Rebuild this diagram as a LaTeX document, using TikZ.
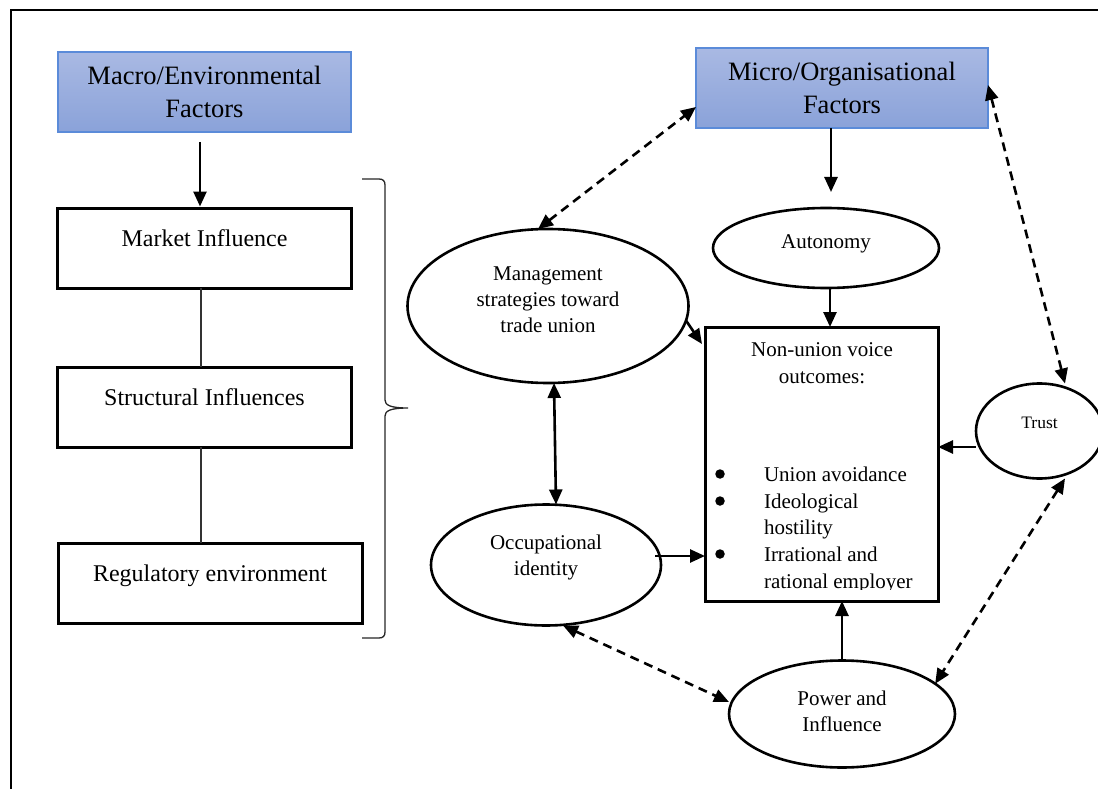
\documentclass[tikz,border=0pt]{standalone}
\usepackage{fontspec}
\setmainfont{Liberation Serif}
\usetikzlibrary{arrows.meta,calc,shapes.geometric}
\definecolor{bluetop}{HTML}{A9B9E3}
\definecolor{bluebot}{HTML}{8AA2D9}
\definecolor{bluebd}{HTML}{5B8BD9}
\begin{document}
\begin{tikzpicture}[x=1pt,y=-1pt,
  every node/.style={inner sep=0pt, outer sep=0pt},
  bluebox/.style={draw=bluebd, line width=1.5pt, top color=bluetop, bottom color=bluebot, align=center, font=\fontsize{26.5}{33.5}\selectfont},
  plainbox/.style={draw, line width=3pt, text height=38pt, text depth=42pt, font=\fontsize{24}{29}\selectfont},
  oval/.style={draw, ellipse, line width=2.6pt},
  otxt/.style={align=center, font=\fontsize{21}{26}\selectfont},
  ltxt/.style={font=\fontsize{21}{27}\selectfont},
  dot/.style={circle, fill, minimum size=9.5pt},
  arr/.style={line width=2.6pt, -{Triangle[length=15pt,width=13pt]}},
  dblarr/.style={line width=2.6pt, {Triangle[length=15pt,width=13pt]}-{Triangle[length=15pt,width=13pt]}},
  dsh/.style={dblarr, dash pattern=on 9pt off 6pt},
  thinline/.style={line width=1.1pt, draw=black!80}
]
\useasboundingbox (0,0) rectangle (1098,789);
\draw[line width=2.2pt] (11,789) -- (11,10) -- (1098,10);

% left column
\node[bluebox, minimum width=293pt, minimum height=80pt] (mac) at (204.5,92) {Macro/Environmental\\Factors};
\node[plainbox, minimum width=294pt, anchor=base] (mk) at (204.5,246) {Market Influence};
\node[plainbox, minimum width=294pt, anchor=base] (st) at (204.5,405) {Structural Influences};
\node[plainbox, minimum width=304pt, anchor=base] (rg) at (210,581) {Regulatory environment};

\draw[arr] ([xshift=-4.5pt,yshift=-10pt]mac.south) -- ([xshift=-4.5pt,yshift=1.5pt]mk.north);
\draw[thinline] ([xshift=-3.5pt]mk.south) -- ([xshift=-3.5pt]mk.south |- st.north);
\draw[thinline] ([xshift=-3.5pt]st.south) -- ([xshift=-3.5pt]st.south |- rg.north);

% brace
\draw[line width=1.3pt, draw=black!85] (362,179) -- (379,179) .. controls (383,179) and (385,181) .. (385,185) -- (385,400) .. controls (385,405) and (390,408) .. (408,408) .. controls (390,408) and (385,411) .. (385,416) -- (385,632) .. controls (385,636) and (383,638) .. (379,638) -- (362,638);

% right part
\node[bluebox, minimum width=292pt, minimum height=80pt] (mic) at (842,88) {Micro/Organisational\\Factors};

\node[oval, minimum width=281pt, minimum height=154pt] (mg) at (548,306) {};
\node[otxt] (mgt) at (548,300) {Management\\strategies toward\\trade union};

\node[oval, minimum width=226pt, minimum height=80pt] (au) at (826,248) {};
\node[otxt, anchor=base] (aut) at (826,248) {Autonomy};

\node[oval, minimum width=230pt, minimum height=121pt] (oc) at (546,565) {};
\node[otxt] (oct) at (546,557) {Occupational\\identity};

\node[oval, minimum width=127pt, minimum height=95pt] (tr) at (1039.5,431) {};
\node[font=\fontsize{17.5}{21}\selectfont, anchor=base] (trt) at (1039.5,428) {Trust};

\node[oval, minimum width=226pt, minimum height=107pt] (pw) at (842,714) {};
\node[otxt] (pwt) at (842,711) {Power and\\Influence};

\node[draw, line width=3pt, minimum width=233pt, minimum height=274pt] (nu) at (821.5,464) {};
\node[ltxt, anchor=base] (h1) at (822,356) {Non-union voice};
\node[ltxt, anchor=base] (h2) at (822,383) {outcomes:};
\node[dot] (d1) at (720,474) {};
\node[dot] (d2) at (720,501) {};
\node[dot] (d3) at (720,554) {};
\begin{scope}
\clip (706,328) rectangle (937,589.5);
\node[ltxt, anchor=base west] (b1) at (764,481) {Union avoidance};
\node[ltxt, anchor=base west] (b2) at (764,508) {Ideological};
\node[ltxt, anchor=base west] (b3) at (764,534) {hostility};
\node[ltxt, anchor=base west] (b4) at (764,561) {Irrational and};
\node[ltxt, anchor=base west] (b5) at (764,588) {rational employer};
\end{scope}

% connectors
\draw[arr] ([xshift=-11pt]mic.south) -- ([xshift=5pt,yshift=16pt]au.north);
\draw[arr] ([xshift=4pt]au.south) -- ([xshift=4pt]au.south |- nu.north);
\draw[arr] (mg.-6) -- ([xshift=-3pt,yshift=-17pt]nu.north west);
\draw[dblarr] ([xshift=6pt]mg.south) -- ([xshift=10pt]oc.north);
\draw[arr] ([xshift=-6pt,yshift=9pt]oc.east) -- ([yshift=9pt]oc.east -| nu.west);
\draw[arr] ([yshift=-16pt]tr.west) -- ([yshift=-16pt]tr.west -| nu.east);
\draw[arr] (pw.north) -- (pw.north |- nu.south);
\draw[dsh] ([xshift=-10pt]mg.north) -- ([yshift=-19pt]mic.west);
\draw[dsh] ([yshift=3pt]mic.east) -- ([xshift=25.5pt]tr.north);
\draw[dsh] ([xshift=25.5pt]tr.south) -- (pw.18);
\draw[dsh] ([xshift=17pt]oc.south) -- ([yshift=12pt]pw.west);
\end{tikzpicture}
\end{document}
